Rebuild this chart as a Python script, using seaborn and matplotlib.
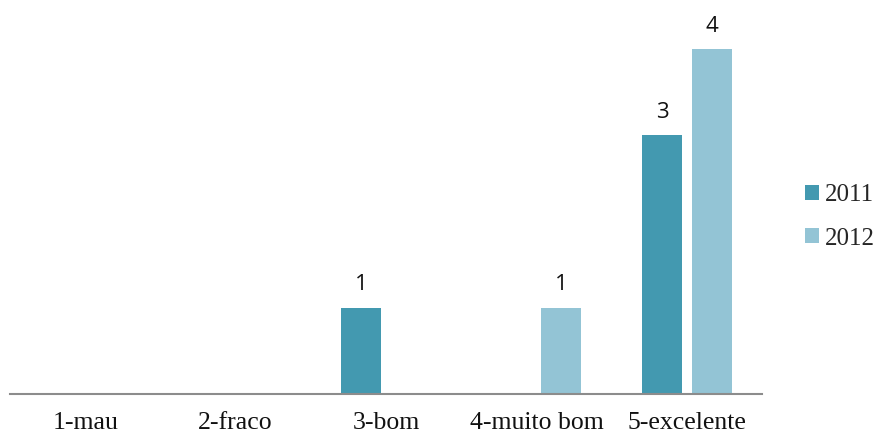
import matplotlib
matplotlib.use("Agg")
import matplotlib.pyplot as plt
import pandas as pd
import seaborn as sns

# values
categories = ["1-mau", "2-fraco", "3-bom", "4-muito bom", "5-excelente"]
years = ["2011", "2012"]
vals_2011 = [0, 0, 1, 0, 3]
vals_2012 = [0, 0, 0, 1, 4]
colors = ["#4399B0", "#93C4D5"]

df = pd.DataFrame({
    "categoria": categories * 2,
    "ano": [years[0]] * 5 + [years[1]] * 5,
    "valor": vals_2011 + vals_2012,
})

sns.set_style("white")
fig = plt.figure(figsize=(8.76, 4.34), dpi=100)
ax = fig.add_axes([10 / 876, 40 / 434, 752 / 876, 388 / 434])

sns.barplot(data=df, x="categoria", y="valor", hue="ano", order=categories,
            hue_order=years, palette=colors, width=0.662, gap=0.2,
            linewidth=0, saturation=1, ax=ax)

for cont in ax.containers:
    labels = [f"{v:g}" if v else "" for v in cont.datavalues]
    ax.bar_label(cont, labels=labels, padding=9, fontsize=16,
                 family="Open Sans", color="#111111")

ax.set_xlim(-0.5, 4.5)
ax.set_ylim(0, 4.5)
ax.set_xlabel("")
ax.set_ylabel("")
ax.set_yticks([])
ax.tick_params(axis="x", length=0, pad=13)
for lbl in ax.get_xticklabels():
    lbl.set_family("Liberation Serif")
    lbl.set_fontsize(18.5)
    lbl.set_color("#111111")

for side in ["top", "left", "right"]:
    ax.spines[side].set_visible(False)
ax.spines["bottom"].set_color("#8c8c8c")
ax.spines["bottom"].set_linewidth(1.5)

handles, labels = ax.get_legend_handles_labels()
ax.get_legend().remove()
fig.legend(handles, labels, loc="center left", bbox_to_anchor=(805 / 876, 1 - 217 / 434),
           frameon=False, handlelength=0.55, handleheight=0.55, handletextpad=0.25,
           labelspacing=0.85, borderpad=0, borderaxespad=0,
           prop={"family": "Liberation Serif", "size": 18})

fig.savefig("out.png", dpi=100)
